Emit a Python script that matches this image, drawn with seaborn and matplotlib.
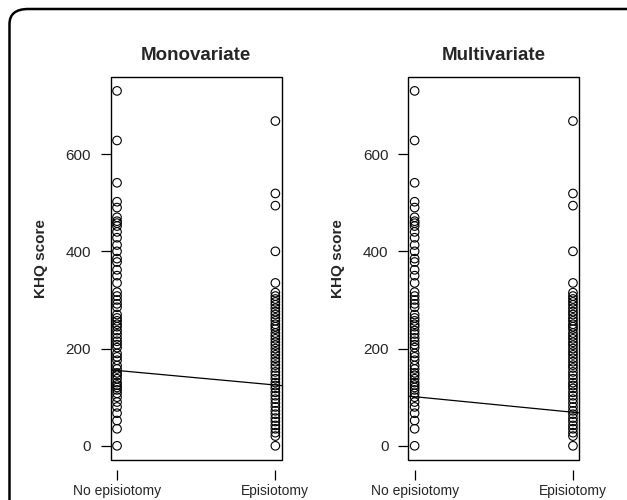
import numpy as np
import pandas as pd
import matplotlib
matplotlib.use("Agg")
import matplotlib.pyplot as plt
import seaborn as sns
from matplotlib.patches import Rectangle, FancyBboxPatch

# KHQ 分数（两组）
groups = ["No episiotomy", "Episiotomy"]
no_epi = [730, 628, 541, 502, 490, 470, 462, 458, 452, 440, 428, 413, 400, 385,
          378, 362, 350, 335, 316, 308, 300, 292, 285, 270, 263, 257, 250, 245,
          237, 230, 222, 215, 208, 202, 190, 183, 176, 165, 158, 150, 145, 138,
          130, 125, 120, 115, 108, 100, 90, 80, 67, 52, 35, 0]
epi = [668, 519, 494, 400, 335, 315, 308, 302, 296, 290, 283, 276, 270, 263,
       257, 250, 245, 240, 232, 226, 220, 213, 207, 200, 193, 187, 180, 173,
       166, 160, 152, 145, 138, 130, 124, 118, 110, 103, 96, 88, 80, 72, 65,
       57, 50, 42, 35, 27, 20, 0]

# 回归线：两组的拟合值
titles = ["Monovariate", "Multivariate"]
fit_no_epi = [155, 101]
fit_epi = [125, 69]

yticks = [0, 200, 400, 600]

df = pd.DataFrame({
    "group": [0] * len(no_epi) + [1] * len(epi),
    "khq": no_epi + epi,
})

sns.set_style("white")
plt.rcParams["font.family"] = ["Liberation Sans", "DejaVu Sans"]

fig = plt.figure(figsize=(6.27, 5.0), dpi=100)

# 外框（圆角）
border = FancyBboxPatch((9.5 / 627, -0.2), 1.5, 1.2 - 9 / 500,
                        boxstyle="round,pad=0,rounding_size=0.03",
                        transform=fig.transFigure, fill=False,
                        edgecolor="black", linewidth=1.8, clip_on=False)
fig.patches.append(border)

lo, hi = df["khq"].min(), df["khq"].max()
pad = 0.04 * (hi - lo)

lefts = [110.7 / 627, 408.3 / 627]
for i, title in enumerate(titles):
    ax = fig.add_axes([lefts[i], 40 / 500, 171 / 627, 383.3 / 500])
    sns.scatterplot(data=df, x="group", y="khq", ax=ax, marker="o", s=38,
                    color="black", linewidth=0.8, legend=False)
    pts = ax.collections[-1]
    pts.set_facecolor("none")
    pts.set_edgecolor("black")

    ax.axline((0, fit_no_epi[i]), (1, fit_epi[i]), color="black", linewidth=0.9)

    ax.set_xlim(-0.04, 1.04)
    ax.set_ylim(lo - pad, hi + pad)
    ax.set_xticks([0, 1])
    ax.set_xticklabels(groups, fontsize=12)
    ax.set_yticks(yticks)
    ax.set_yticklabels([str(t) for t in yticks], fontsize=11)

    for s in ax.spines.values():
        s.set_visible(False)
    ax.spines["bottom"].set_position(("outward", 7.2))
    ax.add_patch(Rectangle((0, 0), 1, 1, transform=ax.transAxes, fill=False,
                           edgecolor="black", linewidth=1.0, clip_on=False))
    ax.tick_params(axis="both", direction="out", length=7.2, width=0.9,
                   color="black", bottom=True, left=True)
    ax.tick_params(axis="x", pad=3)
    ax.tick_params(axis="y", pad=7)

    ax.set_xlabel("")
    ax.set_ylabel("KHQ score", fontsize=11, fontweight="bold")
    ax.yaxis.set_label_coords(-63 / 171, 0.526)
    ax.set_title(title, fontsize=13.5, fontweight="bold", pad=12)

fig.savefig("out.png", dpi=100)
